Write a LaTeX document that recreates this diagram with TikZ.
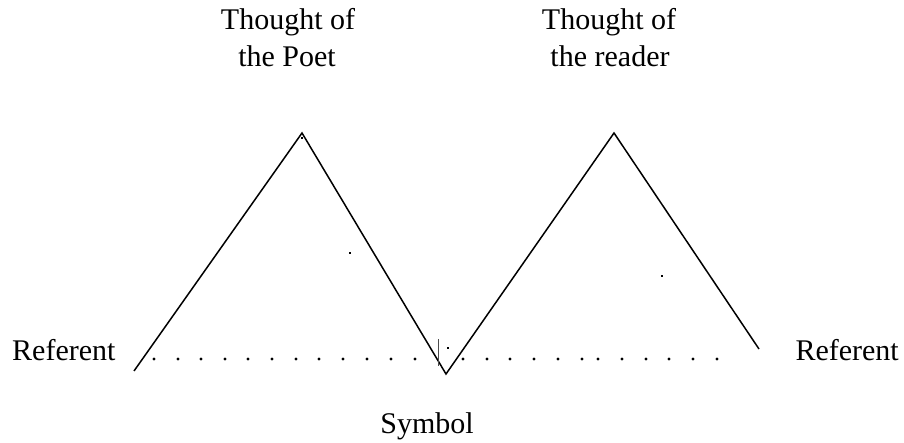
\documentclass[tikz,border=0pt]{standalone}
\usepackage{fontspec}
\setmainfont{Liberation Serif}
\newcommand{\sdLabel}[1]{\fontsize{30}{37}\selectfont #1}

\begin{document}
\begin{tikzpicture}[x=1pt,y=-1pt]
\useasboundingbox (0,0) rectangle (904,443);
\tikzset{lbl/.style={anchor=base, inner sep=0pt}, speck/.style={fill=black}}
\node[lbl] (poetA) at (288,30) {\sdLabel{Thought of}};
\node[lbl] (poetB) at (287,67) {\sdLabel{the Poet}};
\node[lbl] (readerA) at (609,30) {\sdLabel{Thought of}};
\node[lbl] (readerB) at (610,67) {\sdLabel{the reader}};
\node[lbl, anchor=base west] (refLeft) at (12,360) {\sdLabel{Referent}};
\node[lbl, anchor=base east] (refRight) at (899,360) {\sdLabel{Referent}};
\node[lbl] (symbolText) at (427,433) {\sdLabel{Symbol}};
\coordinate (endL) at (134,371);
\coordinate (poet) at (302,133);
\coordinate (symbol) at (446,374);
\coordinate (reader) at (614,133);
\coordinate (endR) at (759,349);
\draw[line width=1.5pt, line join=miter] (endL) -- (poet) -- (symbol) -- (reader) -- (endR);
\foreach \x in {154,178,201,225,248,272,296,319,343,367,391,415,463,487,510,534,558,582,598,622,646,669,693,717}
  \fill (\x,359) circle (1.6);
\draw[line width=1pt, black!70] (438,339) -- (438,366);
\fill[speck] (447,347) rectangle (449,349);
\fill[speck] (349,252) rectangle (351,254);
\fill[speck] (661,275) rectangle (663,277);
\fill[speck] (301,137) rectangle (303,139);
\end{tikzpicture}
\end{document}
